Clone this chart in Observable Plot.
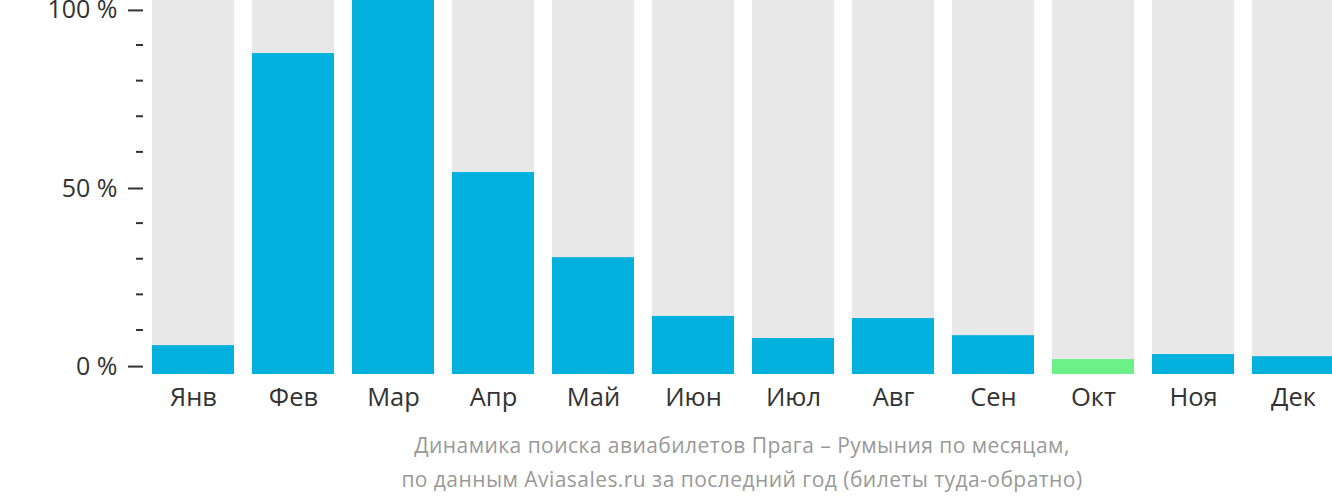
<!DOCTYPE html>
<html>
<head>
<meta charset="utf-8">
<script src="https://cdn.jsdelivr.net/npm/d3@7"></script>
<script src="https://cdn.jsdelivr.net/npm/@observablehq/plot@0.6"></script>
<style>
  html, body { margin: 0; padding: 0; background: #fff; }
  body { position: relative; width: 1332px; height: 502px; overflow: hidden; font-family: "Open Sans", sans-serif; }
  #chart svg { display: block; overflow: visible; }
  .caption { position: absolute; left: 0; top: 427.5px; width: 1332px; box-sizing: border-box; padding-left: 152px; text-align: center; color: #999; font-size: 21px; letter-spacing: 0.45px; line-height: 34px; font-family: "Open Sans", sans-serif; }
</style>
</head>
<body>
<div id="chart"></div>
<div class="caption" id="cap"></div>
<script>
const months = ["Янв", "Фев", "Мар", "Апр", "Май", "Июн", "Июл", "Авг", "Сен", "Окт", "Ноя", "Дек"];
const values = [5.6, 87.6, 102.5, 54.2, 30.3, 13.8, 7.6, 13.2, 8.4, 1.7, 3.1, 2.5];
const highlight = ["Окт"];
const majorTicks = [0, 50, 100];
const minorTicks = [10, 20, 30, 40, 60, 70, 80, 90];
const captionLines = [
  "Динамика поиска авиабилетов Прага – Румыния по месяцам,",
  "по данным Aviasales.ru за последний год (билеты туда-обратно)"
];

const data = months.map((m, i) => ({month: m, value: values[i], hi: highlight.includes(m)}));
const yBase = -2.5, yTop = 102.5;

const chart = Plot.plot({
  width: 1332,
  height: 418,
  marginLeft: 152,
  marginRight: -2,
  marginTop: 0,
  marginBottom: 44,
  style: {fontFamily: "Open Sans, sans-serif", color: "#333", background: "white"},
  x: {domain: months, paddingInner: 0.18, paddingOuter: 0, align: 0, label: null},
  y: {domain: [yBase, yTop], label: null},
  marks: [
    Plot.barY(data, {x: "month", y1: yBase, y2: yTop, fill: "#e8e8e8"}),
    Plot.barY(data, {x: "month", y1: yBase, y2: "value", fill: d => d.hi ? "#6ef089" : "#02b1dd"}),
    Plot.axisY(majorTicks, {tickSize: 15, tickPadding: 11, dx: -9, dy: 1, strokeWidth: 2, stroke: "#333", fill: "#333", fontSize: 25, tickFormat: d => d + " %"}),
    Plot.axisY(minorTicks, {tickSize: 7, dx: -9, strokeWidth: 2, stroke: "#333", text: null}),
    Plot.axisX({tickSize: 0, tickPadding: 13, fontSize: 25.5, fill: "#333", style: {letterSpacing: "0.6px"}})
  ]
});
document.getElementById("chart").appendChild(chart);
document.getElementById("cap").innerHTML = captionLines.map(l => `<div>${l}</div>`).join("");
</script>
</body>
</html>
